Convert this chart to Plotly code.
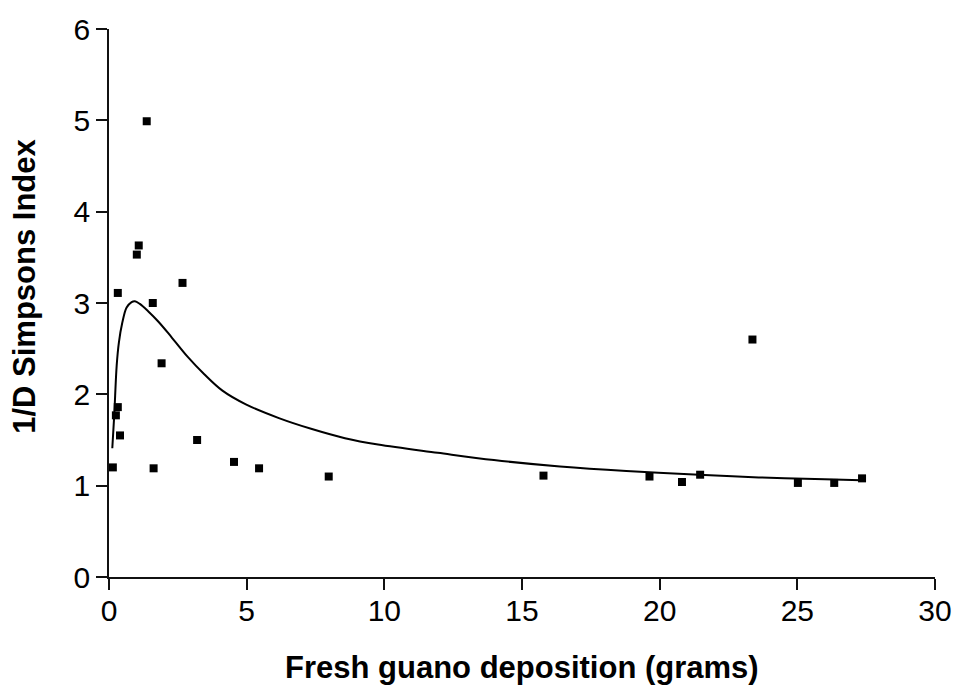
import plotly.graph_objects as go

# Observed data points
guano_g = [1.37, 1.08, 1.01, 0.32, 2.67, 1.59, 1.91, 0.32, 0.25, 0.40, 3.20, 0.14, 1.62,
           4.54, 5.45, 7.98, 15.78, 19.63, 20.81, 21.47, 23.37, 25.02, 26.34, 27.35]
inv_simpson = [4.99, 3.63, 3.53, 3.11, 3.22, 3.00, 2.34, 1.86, 1.77, 1.55, 1.50, 1.20, 1.19,
               1.26, 1.19, 1.10, 1.11, 1.10, 1.04, 1.12, 2.60, 1.03, 1.03, 1.08]

# Fitted curve
fit_x = [0.12, 0.19, 0.28, 0.36, 0.48, 0.64, 0.82, 0.94, 1.12, 1.42, 1.78, 2.26, 2.86, 3.46,
         4.12, 4.97, 6.17, 7.37, 8.57, 9.77, 11.94, 13.98, 16.38, 18.79, 21.43, 23.60, 26.00, 27.32]
fit_y = [1.41, 1.77, 2.32, 2.57, 2.78, 2.95, 3.01, 3.02, 2.99, 2.91, 2.80, 2.63, 2.41, 2.22,
         2.04, 1.89, 1.74, 1.62, 1.52, 1.45, 1.36, 1.28, 1.21, 1.16, 1.12, 1.09, 1.07, 1.06]

x_ticks = [0, 5, 10, 15, 20, 25, 30]
y_ticks = [0, 1, 2, 3, 4, 5, 6]

FONT = "Liberation Sans, Arial, sans-serif"

fig = go.Figure()
fig.add_trace(go.Scatter(x=fit_x, y=fit_y, mode="lines",
                         line=dict(color="black", width=2, shape="spline", smoothing=1.0),
                         showlegend=False, hoverinfo="skip"))
fig.add_trace(go.Scatter(x=guano_g, y=inv_simpson, mode="markers",
                         marker=dict(symbol="square", size=8, color="black"),
                         showlegend=False))

axis_common = dict(showline=True, linecolor="#111", linewidth=1.5, ticks="outside",
                   ticklen=11, tickwidth=1.5, tickcolor="#111", showgrid=False,
                   zeroline=False, tickfont=dict(family=FONT, size=30, color="black"))

fig.update_xaxes(range=[0, 30], tickvals=x_ticks, ticklabelstandoff=-5, **axis_common)
fig.update_yaxes(range=[0, 6], tickvals=y_ticks, **axis_common)

fig.add_annotation(text="<b>Fresh guano deposition (grams)</b>", xref="paper", yref="paper",
                   x=0.5, y=(577 - 668) / 554, xanchor="center", yanchor="middle",
                   showarrow=False, font=dict(family=FONT, size=31, color="black"))
fig.add_annotation(text="<b>1/D Simpsons Index</b>", xref="paper", yref="paper",
                   x=(24 - 109) / 832, y=(577 - 283) / 554, xanchor="center", yanchor="middle",
                   textangle=-90, showarrow=False,
                   font=dict(family=FONT, size=31, color="black"))

fig.update_layout(width=964, height=690, paper_bgcolor="white", plot_bgcolor="white",
                  margin=dict(l=109, r=23, t=23, b=113), showlegend=False)

fig.write_html("out.html")
